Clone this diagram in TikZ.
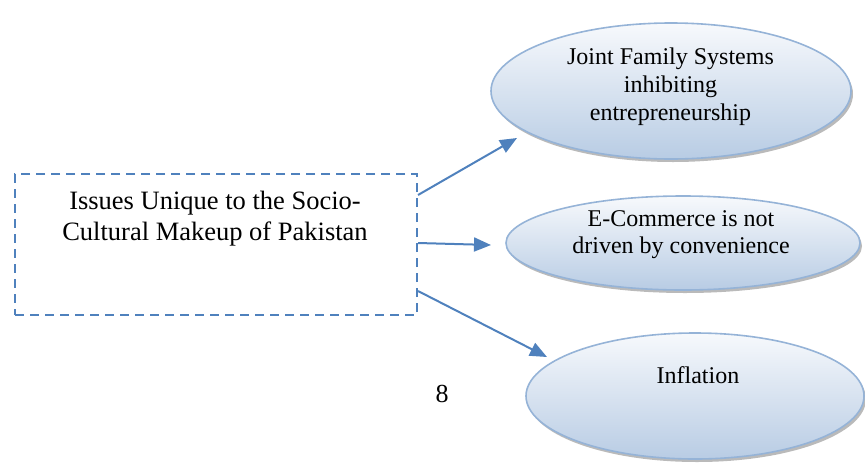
\documentclass[tikz,border=0pt]{standalone}
\usepackage{fontspec}
\setmainfont{Liberation Serif}
\usetikzlibrary{arrows.meta,shadows,shapes.geometric}
\definecolor{accent}{HTML}{4F81BD}
\definecolor{rim}{HTML}{95B3D7}
\definecolor{topfill}{HTML}{F7F9FC}
\definecolor{botfill}{HTML}{B8CCE4}
\tikzset{
  bubble/.style={ellipse, draw=rim, line width=1.6pt, top color=topfill, bottom color=botfill,
    drop shadow={shadow xshift=2pt, shadow yshift=-3pt, fill=black!45, opacity=0.6}, inner sep=0pt},
  txt/.style={align=center, inner sep=0pt, anchor=north},
  link/.style={draw=accent, line width=2pt, -{Triangle[length=17pt,width=14pt]}},
  issuebox/.style={draw=accent, line width=2pt, dash pattern=on 9pt off 6pt, inner sep=0pt}
}
\begin{document}
\begin{tikzpicture}[x=1pt,y=1pt]
\useasboundingbox (0,0) rectangle (865,-464);
\node[issuebox, minimum width=402pt, minimum height=141pt] (box) at (216,-244.5) {};
\node[txt, font=\fontsize{26.5}{31}\selectfont] (boxtext) at (215,-191) {Issues Unique to the Socio-\\Cultural Makeup of Pakistan};

\node[bubble, minimum width=360pt, minimum height=136pt] (e1) at (671,-91) {};
\node[txt, font=\fontsize{24}{28}\selectfont] (t1) at (670.5,-48) {Joint Family Systems\\inhibiting\\entrepreneurship};

\node[bubble, minimum width=354pt, minimum height=94pt] (e2) at (683,-243) {};
\node[txt, font=\fontsize{24}{27}\selectfont] (t2) at (681,-210) {E-Commerce is not\\driven by convenience};

\node[bubble, minimum width=338pt, minimum height=126pt] (e3) at (695,-396) {};
\node[txt, font=\fontsize{24}{28}\selectfont] (t3) at (698,-366) {Inflation};

\node[txt, font=\fontsize{26}{30}\selectfont] (page) at (442,-385) {8};

\coordinate (a1) at (517,-138);
\coordinate (a2) at (491,-245);
\coordinate (a3) at (547,-357);
\draw[link] (box.east |- 0,-195) -- (a1);
\draw[link] (box.east |- 0,-243) -- (a2);
\draw[link] (box.east |- 0,-291) -- (a3);
\end{tikzpicture}
\end{document}
